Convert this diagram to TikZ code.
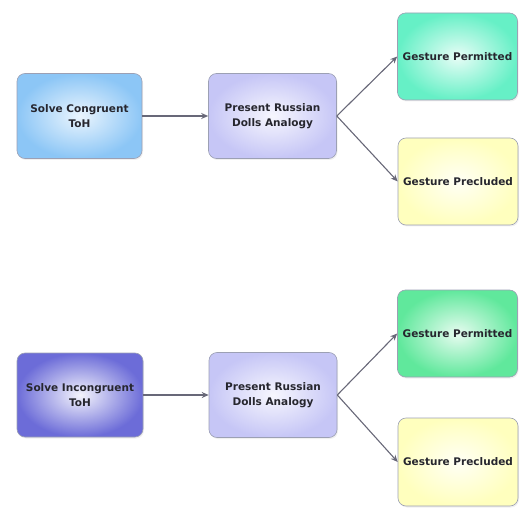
\documentclass[tikz,border=0pt]{standalone}
\usepackage{fontspec}
\setmainfont{DejaVu Sans}
\usetikzlibrary{arrows.meta,shadows}
\definecolor{txt}{HTML}{26262E}
\definecolor{edge}{HTML}{9CA0B4}
\definecolor{arr}{HTML}{686878}
\definecolor{cBlue}{HTML}{8CC6F6}
\definecolor{cLav}{HTML}{C6C6F6}
\definecolor{cAqua}{HTML}{66F0C6}
\definecolor{cYel}{HTML}{FFFFBE}
\definecolor{cPurp}{HTML}{6C6CD8}
\definecolor{cGreen}{HTML}{60E89C}
\tikzset{
  box/.style={draw=edge, line width=0.6pt, rounded corners=8pt,
    minimum width=#1, align=center, text=txt,
    font=\fontsize{10.5}{15}\selectfont\bfseries,
    drop shadow={opacity=0.12, shadow xshift=1pt, shadow yshift=-1.5pt}},
  conn/.style={draw=arr, line width=1.1pt, -{Stealth[length=7pt,width=6pt]}}
}
\begin{document}
\begin{tikzpicture}[x=1pt,y=1pt]
\useasboundingbox (0,0) rectangle (520,-508);
% top row
\node[box=125pt, minimum height=85pt, inner color=cBlue!18, outer color=cBlue] (a1) at (79.5,-116) {Solve Congruent\\ToH};
\node[box=128pt, minimum height=85pt, inner color=cLav!15, outer color=cLav] (b1) at (272.5,-116) {Present Russian\\Dolls Analogy};
\node[box=120pt, minimum height=87pt, inner color=cAqua!15, outer color=cAqua] (c1) at (457.5,-56.5) {Gesture Permitted};
\node[box=120pt, minimum height=87pt, inner color=cYel!15, outer color=cYel] (d1) at (458,-181.5) {Gesture Precluded};
% bottom row
\node[box=126pt, minimum height=84pt, inner color=cPurp!8, outer color=cPurp] (a2) at (80,-395) {Solve Incongruent\\ToH};
\node[box=128pt, minimum height=85pt, inner color=cLav!15, outer color=cLav] (b2) at (273,-395) {Present Russian\\Dolls Analogy};
\node[box=120pt, minimum height=87pt, inner color=cGreen!15, outer color=cGreen] (c2) at (457.5,-333.5) {Gesture Permitted};
\node[box=120pt, minimum height=88pt, inner color=cYel!15, outer color=cYel] (d2) at (458,-462) {Gesture Precluded};
% connectors
\draw[conn] (a1) -- (b1);
\draw[conn] (b1.east) -- (c1.west);
\draw[conn] (b1.east) -- (d1.west);
\draw[conn] (a2) -- (b2);
\draw[conn] (b2.east) -- (c2.west);
\draw[conn] (b2.east) -- (d2.west);
\end{tikzpicture}
\end{document}
